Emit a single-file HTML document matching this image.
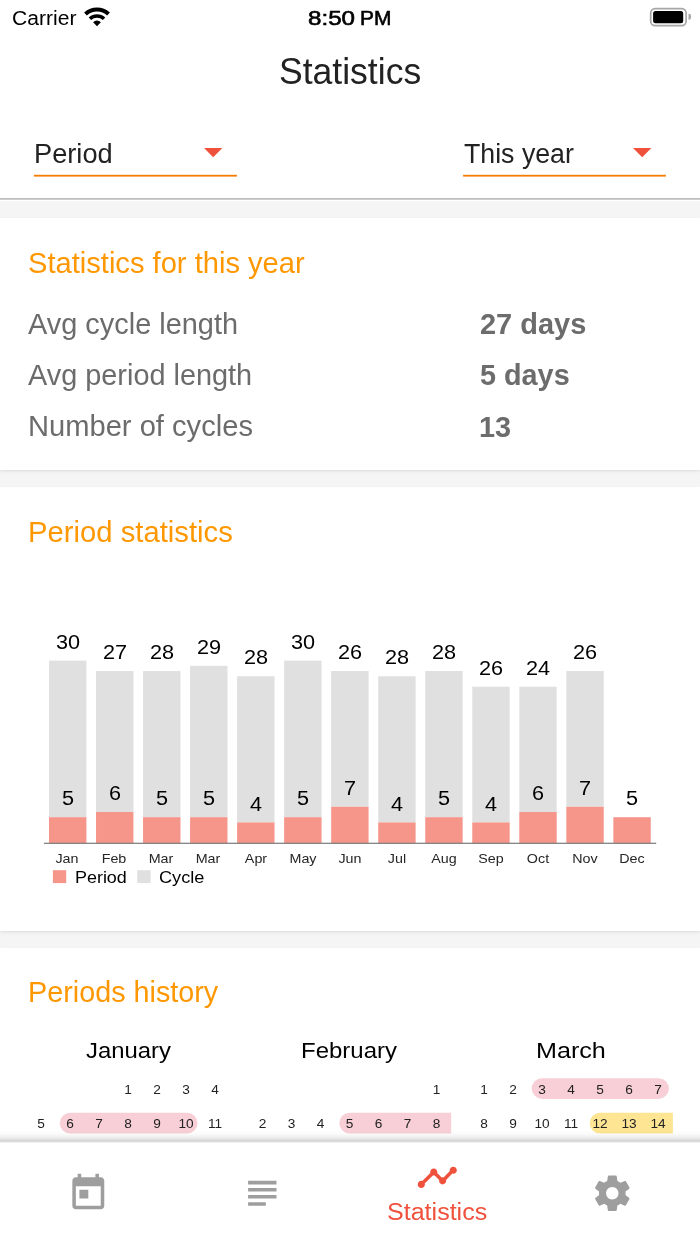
<!DOCTYPE html>
<html lang="en">
<head>
<meta charset="utf-8">
<title>Statistics</title>
<meta name="viewport" content="width=700">
<style>
html,body{margin:0;padding:0;}
body{width:700px;height:1244px;position:relative;overflow:hidden;background:#f5f5f5;font-family:"Liberation Sans", Arial, Helvetica, sans-serif;-webkit-font-smoothing:antialiased;}
.t{position:absolute;white-space:nowrap;margin:0;padding:0;}
.top{z-index:5;}
.b{position:absolute;}
.card{position:absolute;left:0;width:700px;background:#fff;box-shadow:0 1px 2px rgba(0,0,0,0.07), 0 2px 5px rgba(0,0,0,0.035);}
svg{position:absolute;overflow:visible;}
</style>
</head>
<body>
<!-- header -->
<div class="b" id="header" style="left:0;top:0;width:700px;height:200.5px;background:#fff;"></div>
<svg style="left:0;top:170px;" width="700" height="40" viewBox="0 170 700 40"><rect x="0" y="198.2" width="700" height="1.4" fill="#adadad"/><rect x="33.9" y="174.8" width="203" height="1.8" fill="#f57c00"/><rect x="463.1" y="174.8" width="202.8" height="1.8" fill="#f57c00"/></svg>
<!-- cards -->
<div class="card" style="top:218px;height:252.3px;"></div>
<div class="card" style="top:487px;height:444px;"></div>
<div class="card" style="top:948px;height:300px;"></div>

<!-- status bar icons -->
<svg style="left:80px;top:0;" width="36" height="32" viewBox="80 -0.3 36 32">
  <g fill="none" stroke="#000" stroke-linecap="butt">
    <path d="M 85.47 13.64 A 16.9 16.9 0 0 1 108.53 13.64" stroke-width="4"/>
    <path d="M 89.94 18.43 A 10.35 10.35 0 0 1 104.06 18.43" stroke-width="3.6"/>
  </g>
  <path fill="#000" d="M 97 26 L 93.11 21.83 A 5.7 5.7 0 0 1 100.89 21.83 Z"/>
</svg>
<svg style="left:640px;top:0;" width="60" height="34" viewBox="640 0 60 34">
  <rect x="650.7" y="8.6" width="35.4" height="17.1" rx="4.4" fill="none" stroke="#a6a6a6" stroke-width="1.7"/>
  <rect x="653.1" y="11" width="30.1" height="12.2" rx="2.5" fill="#000"/>
  <path d="M688.5 13.8h0.5a2.1 2.95 0 0 1 0 5.9h-0.5Z" fill="#a6a6a6"/>
</svg>

<!-- dropdowns -->
<svg style="left:204.3px;top:148.1px;" width="18.4" height="9.3" viewBox="0 0 18.4 9.3"><path d="M0 0H18.4L9.2 9.3Z" fill="#f0513c"/></svg>
<svg style="left:633.3px;top:148.1px;" width="18.4" height="9.3" viewBox="0 0 18.4 9.3"><path d="M0 0H18.4L9.2 9.3Z" fill="#f0513c"/></svg>

<!-- chart -->
<svg style="left:0;top:600px;" width="700" height="300" viewBox="0 600 700 300">
<rect x="49.00" y="660.60" width="37.40" height="156.60" fill="#e0e0e0"/>
<rect x="49.00" y="817.20" width="37.40" height="26.10" fill="#f6958a"/>
<rect x="96.03" y="671.04" width="37.40" height="140.94" fill="#e0e0e0"/>
<rect x="96.03" y="811.98" width="37.40" height="31.32" fill="#f6958a"/>
<rect x="143.06" y="671.04" width="37.40" height="146.16" fill="#e0e0e0"/>
<rect x="143.06" y="817.20" width="37.40" height="26.10" fill="#f6958a"/>
<rect x="190.09" y="665.82" width="37.40" height="151.38" fill="#e0e0e0"/>
<rect x="190.09" y="817.20" width="37.40" height="26.10" fill="#f6958a"/>
<rect x="237.12" y="676.26" width="37.40" height="146.16" fill="#e0e0e0"/>
<rect x="237.12" y="822.42" width="37.40" height="20.88" fill="#f6958a"/>
<rect x="284.15" y="660.60" width="37.40" height="156.60" fill="#e0e0e0"/>
<rect x="284.15" y="817.20" width="37.40" height="26.10" fill="#f6958a"/>
<rect x="331.18" y="671.04" width="37.40" height="135.72" fill="#e0e0e0"/>
<rect x="331.18" y="806.76" width="37.40" height="36.54" fill="#f6958a"/>
<rect x="378.21" y="676.26" width="37.40" height="146.16" fill="#e0e0e0"/>
<rect x="378.21" y="822.42" width="37.40" height="20.88" fill="#f6958a"/>
<rect x="425.24" y="671.04" width="37.40" height="146.16" fill="#e0e0e0"/>
<rect x="425.24" y="817.20" width="37.40" height="26.10" fill="#f6958a"/>
<rect x="472.27" y="686.70" width="37.40" height="135.72" fill="#e0e0e0"/>
<rect x="472.27" y="822.42" width="37.40" height="20.88" fill="#f6958a"/>
<rect x="519.30" y="686.70" width="37.40" height="125.28" fill="#e0e0e0"/>
<rect x="519.30" y="811.98" width="37.40" height="31.32" fill="#f6958a"/>
<rect x="566.33" y="671.04" width="37.40" height="135.72" fill="#e0e0e0"/>
<rect x="566.33" y="806.76" width="37.40" height="36.54" fill="#f6958a"/>
<rect x="613.36" y="817.20" width="37.40" height="26.10" fill="#f6958a"/>
<rect x="43.9" y="842.70" width="612.3" height="1.2" fill="#7a7a7a"/>
<rect x="52.9" y="870.2" width="13.3" height="12.9" fill="#f6958a"/>
<rect x="137.2" y="870.2" width="13.4" height="12.9" fill="#e0e0e0"/>
</svg>

<!-- calendar pills -->
<svg style="left:0;top:1070px;" width="700" height="70" viewBox="0 1070 700 70">
<rect x="59.80" y="1112.70" width="137.70" height="20.90" rx="10.45" fill="#f8cfd6"/>
<path d="M349.75 1112.70H451.20V1133.60H349.75A10.45 10.45 0 0 1 349.75 1112.70Z" fill="#f8cfd6"/>
<rect x="531.70" y="1078.20" width="137.20" height="20.70" rx="10.35" fill="#f8cfd6"/>
<path d="M600.10 1112.80H672.90V1133.60H600.10A10.40 10.40 0 0 1 600.10 1112.80Z" fill="#fde593"/>
</svg>

<!-- texts -->
<div class="t" id="t0" style="font-size:20.35px;line-height:24px;top:6px;color:#000;left:11.52px;transform-origin:0 50%;transform:scaleX(1.0361);">Carrier</div>
<div class="t" id="t1" style="font-size:20.64px;line-height:25px;top:5px;color:#000;left:307.84px;transform-origin:0 50%;transform:scaleX(1.1718);-webkit-text-stroke:0.6px #000;">8:50</div>
<div class="t" id="t2" style="font-size:20.64px;line-height:25px;top:5px;color:#000;left:360.38px;transform-origin:0 50%;transform:scaleX(1.0159);-webkit-text-stroke:0.6px #000;">PM</div>
<div class="t" id="t3" style="font-size:36.77px;line-height:44px;top:50px;color:#222;left:278.66px;transform-origin:0 50%;transform:scaleX(0.9664);">Statistics</div>
<div class="t" id="t4" style="font-size:27.76px;line-height:33px;top:137px;color:#222;left:34.34px;transform-origin:0 50%;transform:scaleX(0.9804);">Period</div>
<div class="t" id="t5" style="font-size:27.76px;line-height:33px;top:137px;color:#222;left:463.97px;transform-origin:0 50%;transform:scaleX(0.9628);">This year</div>
<div class="t" id="t6" style="font-size:29.07px;line-height:35px;top:246px;color:#ff9800;left:27.75px;transform-origin:0 50%;transform:scaleX(1.0018);">Statistics for this year</div>
<div class="t" id="t7" style="font-size:28.78px;line-height:35px;top:307px;color:#6c6c6c;left:28.45px;transform-origin:0 50%;transform:scaleX(1.0053);">Avg cycle length</div>
<div class="t" id="t8" style="font-size:28.78px;line-height:35px;top:358px;color:#6c6c6c;left:28.45px;transform-origin:0 50%;transform:scaleX(1.0036);">Avg period length</div>
<div class="t" id="t9" style="font-size:28.78px;line-height:35px;top:409px;color:#6c6c6c;left:28.07px;transform-origin:0 50%;transform:scaleX(1.0123);">Number of cycles</div>
<div class="t" id="t10" style="font-size:28.78px;line-height:35px;top:307px;color:#6c6c6c;font-weight:bold;left:479.69px;transform-origin:0 50%;transform:scaleX(1.0068);">27 days</div>
<div class="t" id="t11" style="font-size:28.78px;line-height:35px;top:358px;color:#6c6c6c;font-weight:bold;left:479.85px;transform-origin:0 50%;transform:scaleX(1.0011);">5 days</div>
<div class="t" id="t12" style="font-size:28.78px;line-height:35px;top:410px;color:#6c6c6c;font-weight:bold;left:478.95px;transform-origin:0 50%;transform:scaleX(1.0017);">13</div>
<div class="t" id="t13" style="font-size:29.07px;line-height:35px;top:515px;color:#ff9800;left:27.74px;transform-origin:0 50%;transform:scaleX(1.0062);">Period statistics</div>
<div class="t" id="t14" style="font-size:29.07px;line-height:35px;top:975px;color:#ff9800;left:27.77px;transform-origin:0 50%;transform:scaleX(0.9895);">Periods history</div>
<div class="t top" id="t15" style="font-size:24.42px;line-height:29px;top:1197px;color:#f0513c;left:386.62px;transform-origin:0 50%;transform:scaleX(1.0266);">Statistics</div>
<div class="t" id="t16" style="font-size:20.64px;line-height:25px;top:629px;color:#000;left:-2.50px;width:140px;text-align:center;transform-origin:50% 50%;transform:scaleX(1.0500);">30</div>
<div class="t" id="t17" style="font-size:20.64px;line-height:25px;top:785px;color:#000;left:-2.50px;width:140px;text-align:center;transform-origin:50% 50%;transform:scaleX(1.0500);">5</div>
<div class="t" id="t18" style="font-size:13.37px;line-height:16px;top:851px;color:#262626;left:-2.60px;width:140px;text-align:center;transform-origin:50% 50%;transform:scaleX(1.0700);">Jan</div>
<div class="t" id="t19" style="font-size:20.64px;line-height:25px;top:639px;color:#000;left:44.53px;width:140px;text-align:center;transform-origin:50% 50%;transform:scaleX(1.0500);">27</div>
<div class="t" id="t20" style="font-size:20.64px;line-height:25px;top:780px;color:#000;left:44.53px;width:140px;text-align:center;transform-origin:50% 50%;transform:scaleX(1.0500);">6</div>
<div class="t" id="t21" style="font-size:13.37px;line-height:16px;top:851px;color:#262626;left:44.43px;width:140px;text-align:center;transform-origin:50% 50%;transform:scaleX(1.0700);">Feb</div>
<div class="t" id="t22" style="font-size:20.64px;line-height:25px;top:639px;color:#000;left:91.56px;width:140px;text-align:center;transform-origin:50% 50%;transform:scaleX(1.0500);">28</div>
<div class="t" id="t23" style="font-size:20.64px;line-height:25px;top:785px;color:#000;left:91.56px;width:140px;text-align:center;transform-origin:50% 50%;transform:scaleX(1.0500);">5</div>
<div class="t" id="t24" style="font-size:13.37px;line-height:16px;top:851px;color:#262626;left:91.46px;width:140px;text-align:center;transform-origin:50% 50%;transform:scaleX(1.0700);">Mar</div>
<div class="t" id="t25" style="font-size:20.64px;line-height:25px;top:634px;color:#000;left:138.59px;width:140px;text-align:center;transform-origin:50% 50%;transform:scaleX(1.0500);">29</div>
<div class="t" id="t26" style="font-size:20.64px;line-height:25px;top:785px;color:#000;left:138.59px;width:140px;text-align:center;transform-origin:50% 50%;transform:scaleX(1.0500);">5</div>
<div class="t" id="t27" style="font-size:13.37px;line-height:16px;top:851px;color:#262626;left:138.49px;width:140px;text-align:center;transform-origin:50% 50%;transform:scaleX(1.0700);">Mar</div>
<div class="t" id="t28" style="font-size:20.64px;line-height:25px;top:644px;color:#000;left:185.62px;width:140px;text-align:center;transform-origin:50% 50%;transform:scaleX(1.0500);">28</div>
<div class="t" id="t29" style="font-size:20.64px;line-height:25px;top:791px;color:#000;left:185.62px;width:140px;text-align:center;transform-origin:50% 50%;transform:scaleX(1.0500);">4</div>
<div class="t" id="t30" style="font-size:13.37px;line-height:16px;top:851px;color:#262626;left:185.52px;width:140px;text-align:center;transform-origin:50% 50%;transform:scaleX(1.0700);">Apr</div>
<div class="t" id="t31" style="font-size:20.64px;line-height:25px;top:629px;color:#000;left:232.65px;width:140px;text-align:center;transform-origin:50% 50%;transform:scaleX(1.0500);">30</div>
<div class="t" id="t32" style="font-size:20.64px;line-height:25px;top:785px;color:#000;left:232.65px;width:140px;text-align:center;transform-origin:50% 50%;transform:scaleX(1.0500);">5</div>
<div class="t" id="t33" style="font-size:13.37px;line-height:16px;top:851px;color:#262626;left:232.55px;width:140px;text-align:center;transform-origin:50% 50%;transform:scaleX(1.0700);">May</div>
<div class="t" id="t34" style="font-size:20.64px;line-height:25px;top:639px;color:#000;left:279.68px;width:140px;text-align:center;transform-origin:50% 50%;transform:scaleX(1.0500);">26</div>
<div class="t" id="t35" style="font-size:20.64px;line-height:25px;top:775px;color:#000;left:279.68px;width:140px;text-align:center;transform-origin:50% 50%;transform:scaleX(1.0500);">7</div>
<div class="t" id="t36" style="font-size:13.37px;line-height:16px;top:851px;color:#262626;left:279.58px;width:140px;text-align:center;transform-origin:50% 50%;transform:scaleX(1.0700);">Jun</div>
<div class="t" id="t37" style="font-size:20.64px;line-height:25px;top:644px;color:#000;left:326.71px;width:140px;text-align:center;transform-origin:50% 50%;transform:scaleX(1.0500);">28</div>
<div class="t" id="t38" style="font-size:20.64px;line-height:25px;top:791px;color:#000;left:326.71px;width:140px;text-align:center;transform-origin:50% 50%;transform:scaleX(1.0500);">4</div>
<div class="t" id="t39" style="font-size:13.37px;line-height:16px;top:851px;color:#262626;left:326.61px;width:140px;text-align:center;transform-origin:50% 50%;transform:scaleX(1.0700);">Jul</div>
<div class="t" id="t40" style="font-size:20.64px;line-height:25px;top:639px;color:#000;left:373.74px;width:140px;text-align:center;transform-origin:50% 50%;transform:scaleX(1.0500);">28</div>
<div class="t" id="t41" style="font-size:20.64px;line-height:25px;top:785px;color:#000;left:373.74px;width:140px;text-align:center;transform-origin:50% 50%;transform:scaleX(1.0500);">5</div>
<div class="t" id="t42" style="font-size:13.37px;line-height:16px;top:851px;color:#262626;left:373.64px;width:140px;text-align:center;transform-origin:50% 50%;transform:scaleX(1.0700);">Aug</div>
<div class="t" id="t43" style="font-size:20.64px;line-height:25px;top:655px;color:#000;left:420.77px;width:140px;text-align:center;transform-origin:50% 50%;transform:scaleX(1.0500);">26</div>
<div class="t" id="t44" style="font-size:20.64px;line-height:25px;top:791px;color:#000;left:420.77px;width:140px;text-align:center;transform-origin:50% 50%;transform:scaleX(1.0500);">4</div>
<div class="t" id="t45" style="font-size:13.37px;line-height:16px;top:851px;color:#262626;left:420.67px;width:140px;text-align:center;transform-origin:50% 50%;transform:scaleX(1.0700);">Sep</div>
<div class="t" id="t46" style="font-size:20.64px;line-height:25px;top:655px;color:#000;left:467.80px;width:140px;text-align:center;transform-origin:50% 50%;transform:scaleX(1.0500);">24</div>
<div class="t" id="t47" style="font-size:20.64px;line-height:25px;top:780px;color:#000;left:467.80px;width:140px;text-align:center;transform-origin:50% 50%;transform:scaleX(1.0500);">6</div>
<div class="t" id="t48" style="font-size:13.37px;line-height:16px;top:851px;color:#262626;left:467.70px;width:140px;text-align:center;transform-origin:50% 50%;transform:scaleX(1.0700);">Oct</div>
<div class="t" id="t49" style="font-size:20.64px;line-height:25px;top:639px;color:#000;left:514.83px;width:140px;text-align:center;transform-origin:50% 50%;transform:scaleX(1.0500);">26</div>
<div class="t" id="t50" style="font-size:20.64px;line-height:25px;top:775px;color:#000;left:514.83px;width:140px;text-align:center;transform-origin:50% 50%;transform:scaleX(1.0500);">7</div>
<div class="t" id="t51" style="font-size:13.37px;line-height:16px;top:851px;color:#262626;left:514.73px;width:140px;text-align:center;transform-origin:50% 50%;transform:scaleX(1.0700);">Nov</div>
<div class="t" id="t52" style="font-size:20.64px;line-height:25px;top:785px;color:#000;left:561.86px;width:140px;text-align:center;transform-origin:50% 50%;transform:scaleX(1.0500);">5</div>
<div class="t" id="t53" style="font-size:13.37px;line-height:16px;top:851px;color:#262626;left:561.76px;width:140px;text-align:center;transform-origin:50% 50%;transform:scaleX(1.0700);">Dec</div>
<div class="t" id="t54" style="font-size:17.15px;line-height:21px;top:867px;color:#000;left:74.69px;transform-origin:0 50%;transform:scaleX(1.0455);">Period</div>
<div class="t" id="t55" style="font-size:17.15px;line-height:21px;top:867px;color:#000;left:158.65px;transform-origin:0 50%;transform:scaleX(1.0594);">Cycle</div>
<div class="t" id="t56" style="font-size:22.97px;line-height:28px;top:1036px;color:#000;left:86.04px;transform-origin:0 50%;transform:scaleX(1.0388);">January</div>
<div class="t" id="t57" style="font-size:13.66px;line-height:16px;top:1082px;color:#222;left:58.10px;width:140px;text-align:center;transform-origin:50% 50%;transform:scaleX(1.0000);">1</div>
<div class="t" id="t58" style="font-size:13.66px;line-height:16px;top:1082px;color:#222;left:87.10px;width:140px;text-align:center;transform-origin:50% 50%;transform:scaleX(1.0000);">2</div>
<div class="t" id="t59" style="font-size:13.66px;line-height:16px;top:1082px;color:#222;left:116.10px;width:140px;text-align:center;transform-origin:50% 50%;transform:scaleX(1.0000);">3</div>
<div class="t" id="t60" style="font-size:13.66px;line-height:16px;top:1082px;color:#222;left:145.10px;width:140px;text-align:center;transform-origin:50% 50%;transform:scaleX(1.0000);">4</div>
<div class="t" id="t61" style="font-size:13.66px;line-height:16px;top:1116px;color:#222;left:-28.90px;width:140px;text-align:center;transform-origin:50% 50%;transform:scaleX(1.0000);">5</div>
<div class="t" id="t62" style="font-size:13.66px;line-height:16px;top:1116px;color:#222;left:0.10px;width:140px;text-align:center;transform-origin:50% 50%;transform:scaleX(1.0000);">6</div>
<div class="t" id="t63" style="font-size:13.66px;line-height:16px;top:1116px;color:#222;left:29.10px;width:140px;text-align:center;transform-origin:50% 50%;transform:scaleX(1.0000);">7</div>
<div class="t" id="t64" style="font-size:13.66px;line-height:16px;top:1116px;color:#222;left:58.10px;width:140px;text-align:center;transform-origin:50% 50%;transform:scaleX(1.0000);">8</div>
<div class="t" id="t65" style="font-size:13.66px;line-height:16px;top:1116px;color:#222;left:87.10px;width:140px;text-align:center;transform-origin:50% 50%;transform:scaleX(1.0000);">9</div>
<div class="t" id="t66" style="font-size:13.66px;line-height:16px;top:1116px;color:#222;left:116.10px;width:140px;text-align:center;transform-origin:50% 50%;transform:scaleX(1.0000);">10</div>
<div class="t" id="t67" style="font-size:13.66px;line-height:16px;top:1116px;color:#222;left:145.10px;width:140px;text-align:center;transform-origin:50% 50%;transform:scaleX(1.0000);">11</div>
<div class="t" id="t68" style="font-size:22.97px;line-height:28px;top:1036px;color:#000;left:300.62px;transform-origin:0 50%;transform:scaleX(1.0444);">February</div>
<div class="t" id="t69" style="font-size:13.66px;line-height:16px;top:1082px;color:#222;left:366.50px;width:140px;text-align:center;transform-origin:50% 50%;transform:scaleX(1.0000);">1</div>
<div class="t" id="t70" style="font-size:13.66px;line-height:16px;top:1116px;color:#222;left:192.50px;width:140px;text-align:center;transform-origin:50% 50%;transform:scaleX(1.0000);">2</div>
<div class="t" id="t71" style="font-size:13.66px;line-height:16px;top:1116px;color:#222;left:221.50px;width:140px;text-align:center;transform-origin:50% 50%;transform:scaleX(1.0000);">3</div>
<div class="t" id="t72" style="font-size:13.66px;line-height:16px;top:1116px;color:#222;left:250.50px;width:140px;text-align:center;transform-origin:50% 50%;transform:scaleX(1.0000);">4</div>
<div class="t" id="t73" style="font-size:13.66px;line-height:16px;top:1116px;color:#222;left:279.50px;width:140px;text-align:center;transform-origin:50% 50%;transform:scaleX(1.0000);">5</div>
<div class="t" id="t74" style="font-size:13.66px;line-height:16px;top:1116px;color:#222;left:308.50px;width:140px;text-align:center;transform-origin:50% 50%;transform:scaleX(1.0000);">6</div>
<div class="t" id="t75" style="font-size:13.66px;line-height:16px;top:1116px;color:#222;left:337.50px;width:140px;text-align:center;transform-origin:50% 50%;transform:scaleX(1.0000);">7</div>
<div class="t" id="t76" style="font-size:13.66px;line-height:16px;top:1116px;color:#222;left:366.50px;width:140px;text-align:center;transform-origin:50% 50%;transform:scaleX(1.0000);">8</div>
<div class="t" id="t77" style="font-size:22.97px;line-height:28px;top:1036px;color:#000;left:536.23px;transform-origin:0 50%;transform:scaleX(1.0947);">March</div>
<div class="t" id="t78" style="font-size:13.66px;line-height:16px;top:1082px;color:#222;left:414.00px;width:140px;text-align:center;transform-origin:50% 50%;transform:scaleX(1.0000);">1</div>
<div class="t" id="t79" style="font-size:13.66px;line-height:16px;top:1082px;color:#222;left:443.00px;width:140px;text-align:center;transform-origin:50% 50%;transform:scaleX(1.0000);">2</div>
<div class="t" id="t80" style="font-size:13.66px;line-height:16px;top:1082px;color:#222;left:472.00px;width:140px;text-align:center;transform-origin:50% 50%;transform:scaleX(1.0000);">3</div>
<div class="t" id="t81" style="font-size:13.66px;line-height:16px;top:1082px;color:#222;left:501.00px;width:140px;text-align:center;transform-origin:50% 50%;transform:scaleX(1.0000);">4</div>
<div class="t" id="t82" style="font-size:13.66px;line-height:16px;top:1082px;color:#222;left:530.00px;width:140px;text-align:center;transform-origin:50% 50%;transform:scaleX(1.0000);">5</div>
<div class="t" id="t83" style="font-size:13.66px;line-height:16px;top:1082px;color:#222;left:559.00px;width:140px;text-align:center;transform-origin:50% 50%;transform:scaleX(1.0000);">6</div>
<div class="t" id="t84" style="font-size:13.66px;line-height:16px;top:1082px;color:#222;left:588.00px;width:140px;text-align:center;transform-origin:50% 50%;transform:scaleX(1.0000);">7</div>
<div class="t" id="t85" style="font-size:13.66px;line-height:16px;top:1116px;color:#222;left:414.00px;width:140px;text-align:center;transform-origin:50% 50%;transform:scaleX(1.0000);">8</div>
<div class="t" id="t86" style="font-size:13.66px;line-height:16px;top:1116px;color:#222;left:443.00px;width:140px;text-align:center;transform-origin:50% 50%;transform:scaleX(1.0000);">9</div>
<div class="t" id="t87" style="font-size:13.66px;line-height:16px;top:1116px;color:#222;left:472.00px;width:140px;text-align:center;transform-origin:50% 50%;transform:scaleX(1.0000);">10</div>
<div class="t" id="t88" style="font-size:13.66px;line-height:16px;top:1116px;color:#222;left:501.00px;width:140px;text-align:center;transform-origin:50% 50%;transform:scaleX(1.0000);">11</div>
<div class="t" id="t89" style="font-size:13.66px;line-height:16px;top:1116px;color:#222;left:530.00px;width:140px;text-align:center;transform-origin:50% 50%;transform:scaleX(1.0000);">12</div>
<div class="t" id="t90" style="font-size:13.66px;line-height:16px;top:1116px;color:#222;left:559.00px;width:140px;text-align:center;transform-origin:50% 50%;transform:scaleX(1.0000);">13</div>
<div class="t" id="t91" style="font-size:13.66px;line-height:16px;top:1116px;color:#222;left:588.00px;width:140px;text-align:center;transform-origin:50% 50%;transform:scaleX(1.0000);">14</div>

<!-- tab bar -->
<div class="b" id="tabbar" style="left:0;top:1142px;width:700px;height:103px;background:#fff;"></div>
<div class="b" style="left:0;top:1130px;width:700px;height:14px;background:linear-gradient(to bottom, rgba(0,0,0,0) 0, rgba(0,0,0,0.02) 4px, rgba(0,0,0,0.06) 7px, rgba(0,0,0,0.10) 9px, rgba(0,0,0,0.15) 10.3px, rgba(0,0,0,0.175) 11px, rgba(0,0,0,0.08) 12.2px, rgba(0,0,0,0) 13.3px);"></div>
<svg style="left:67px;top:1172px;" width="42.6" height="42.6" viewBox="0 0 24 24"><path fill="#9e9e9e" d="M19 3h-1V1h-2v2H8V1H6v2H5c-1.11 0-1.99.9-1.99 2L3 19c0 1.1.89 2 2 2h14c1.1 0 2-.9 2-2V5c0-1.1-.9-2-2-2zm0 16H5V8h14v11zM7 10h5v5H7z"/></svg>
<svg style="left:241px;top:1172px;" width="42.6" height="42.6" viewBox="0 0 24 24"><path fill="#9e9e9e" d="M14 17H4v2h10v-2zm6-8H4v2h16V9zM4 15h16v-2H4v2zM4 5v2h16V5H4z"/></svg>
<svg style="left:416.3px;top:1155.7px;" width="42.6" height="42.6" viewBox="0 0 24 24"><path fill="#f0513c" d="M23 8c0 1.1-.9 2-2 2-.18 0-.35-.02-.51-.07l-3.56 3.55c.05.16.07.34.07.52 0 1.1-.9 2-2 2s-2-.9-2-2c0-.18.02-.36.07-.52l-2.55-2.55c-.16.05-.34.07-.52.07s-.36-.02-.52-.07l-4.55 4.56c.05.16.07.33.07.51 0 1.1-.9 2-2 2s-2-.9-2-2 .9-2 2-2c.18 0 .35.02.51.07l4.56-4.55C8.02 9.36 8 9.18 8 9c0-1.1.9-2 2-2s2 .9 2 2c0 .18-.02.36-.07.52l2.55 2.55c.16-.05.34-.07.52-.07s.36.02.52.07l3.55-3.56C19.02 8.35 19 8.18 19 8c0-1.1.9-2 2-2s2 .9 2 2z"/></svg>
<svg style="left:591px;top:1171.7px;" width="42.6" height="42.6" viewBox="0 0 24 24"><path fill="#9e9e9e" d="M19.43 12.98c.04-.32.07-.64.07-.98s-.03-.66-.07-.98l2.11-1.65c.19-.15.24-.42.12-.64l-2-3.46c-.12-.22-.39-.3-.61-.22l-2.49 1c-.52-.4-1.08-.73-1.69-.98l-.38-2.65C14.46 2.18 14.25 2 14 2h-4c-.25 0-.46.18-.49.42l-.38 2.65c-.61.25-1.17.59-1.69.98l-2.49-1c-.23-.09-.49 0-.61.22l-2 3.46c-.13.22-.07.49.12.64l2.11 1.65c-.04.32-.07.65-.07.98s.03.66.07.98l-2.11 1.65c-.19.15-.24.42-.12.64l2 3.46c.12.22.39.3.61.22l2.49-1c.52.4 1.08.73 1.69.98l.38 2.65c.03.24.24.42.49.42h4c.25 0 .46-.18.49-.42l.38-2.65c.61-.25 1.17-.59 1.69-.98l2.49 1c.23.09.49 0 .61-.22l2-3.46c.12-.22.07-.49-.12-.64l-2.11-1.65zM12 15.5c-1.93 0-3.5-1.57-3.5-3.5s1.570-3.500 3.500-3.500 3.500 1.570 3.500 3.500-1.570 3.500-3.500 3.500z"/></svg>
</body>
</html>
